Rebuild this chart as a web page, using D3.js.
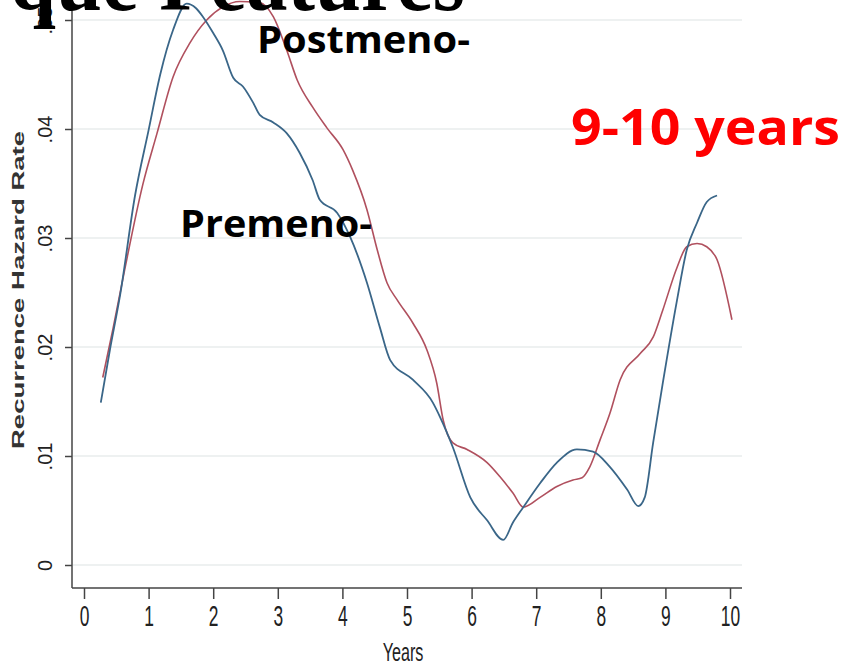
<!DOCTYPE html>
<html>
<head>
<meta charset="utf-8">
<script src="https://cdn.jsdelivr.net/npm/d3@7"></script>
<style>
  body { margin: 0; background: #fff; }
  svg { display: block; }
</style>
</head>
<body>
<svg id="chart"></svg>
<script>
// years and hazard rates
const premenoYears = [0.26, 0.40, 0.56, 0.79, 1.00, 1.18, 1.38, 1.59, 1.73, 1.84, 2.00, 2.15, 2.31, 2.46, 2.62, 2.72, 2.93, 3.14, 3.34, 3.54, 3.65, 3.92, 4.12, 4.38, 4.58, 4.74, 5.09, 5.40, 5.51, 5.71, 5.98, 6.24, 6.49, 6.64, 6.80, 7.06, 7.32, 7.63, 7.88, 8.14, 8.41, 8.58, 8.68, 8.81, 8.96, 9.18, 9.33, 9.49, 9.64, 9.80];
const premenoRate = [0.0149, 0.0197, 0.0248, 0.0339, 0.0399, 0.0450, 0.0491, 0.0515, 0.0511, 0.0503, 0.0488, 0.0472, 0.0447, 0.0439, 0.0424, 0.0413, 0.0406, 0.0396, 0.0378, 0.0353, 0.0335, 0.0323, 0.0301, 0.0259, 0.0218, 0.0188, 0.0170, 0.0149, 0.0136, 0.0108, 0.0062, 0.0041, 0.0023, 0.0039, 0.0053, 0.0075, 0.0094, 0.0106, 0.0104, 0.0090, 0.0069, 0.0054, 0.0062, 0.0112, 0.0167, 0.0243, 0.0289, 0.0314, 0.0333, 0.0339];

const postmenoYears = [0.29, 0.45, 0.63, 0.91, 1.13, 1.38, 1.64, 1.90, 2.15, 2.41, 2.72, 2.93, 3.14, 3.30, 3.54, 3.76, 4.01, 4.16, 4.38, 4.54, 4.69, 4.85, 5.09, 5.31, 5.46, 5.56, 5.71, 5.93, 6.24, 6.44, 6.64, 6.80, 7.06, 7.32, 7.57, 7.71, 7.83, 7.99, 8.14, 8.30, 8.61, 8.81, 8.96, 9.18, 9.33, 9.49, 9.64, 9.80, 10.03];
const postmenoRate = [0.0172, 0.0217, 0.0271, 0.0349, 0.0396, 0.0448, 0.0479, 0.0500, 0.0512, 0.0517, 0.0516, 0.0503, 0.0472, 0.0445, 0.0420, 0.0401, 0.0381, 0.0362, 0.0326, 0.0289, 0.0259, 0.0243, 0.0222, 0.0197, 0.0167, 0.0133, 0.0112, 0.0106, 0.0094, 0.0081, 0.0066, 0.0053, 0.0062, 0.0072, 0.0078, 0.0080, 0.0090, 0.0115, 0.0139, 0.0170, 0.0194, 0.0209, 0.0234, 0.0273, 0.0292, 0.0295, 0.0292, 0.0280, 0.0225];

const xTicks = [0, 1, 2, 3, 4, 5, 6, 7, 8, 9, 10];
const yTicks = [0, 0.01, 0.02, 0.03, 0.04, 0.05];
const yTickLabels = ["0", ".01", ".02", ".03", ".04", ".05"];

const width = 847, height = 666;

const svg = d3.select("#chart")
    .attr("width", width)
    .attr("height", height);

const x = d3.scaleLinear().domain([0, 10]).range([84, 730]);
const y = d3.scaleLinear().domain([0, 0.05]).range([565, 20]);

const axisY = 588, axisX = 72;

// faint grid
svg.append("g")
    .selectAll("line")
    .data(yTicks)
    .enter().append("line")
        .attr("x1", axisX + 1)
        .attr("x2", 742)
        .attr("y1", d => y(d))
        .attr("y2", d => y(d))
        .attr("stroke", "#eef1f1")
        .attr("stroke-width", 2);

// y axis
const gy = svg.append("g")
    .attr("transform", `translate(${axisX},0)`)
    .call(d3.axisLeft(y).tickValues(yTicks).tickSize(7).tickFormat((d, i) => yTickLabels[i]));
gy.select(".domain").remove();
gy.append("line")
    .attr("x1", 0).attr("x2", 0)
    .attr("y1", 10).attr("y2", axisY)
    .attr("stroke", "#444").attr("stroke-width", 1.5);
gy.selectAll(".tick line").attr("stroke", "#444").attr("stroke-width", 1.5);
gy.selectAll(".tick text")
    .attr("x", null).attr("dy", null)
    .attr("transform", "translate(-27,0) rotate(-90)")
    .attr("text-anchor", "middle")
    .attr("dominant-baseline", "central")
    .style("font-family", "Liberation Sans, Arial, sans-serif")
    .style("font-size", "20px")
    .attr("fill", "#222");

// x axis
const gx = svg.append("g")
    .attr("transform", `translate(0,${axisY})`)
    .call(d3.axisBottom(x).tickValues(xTicks).tickSize(11).tickFormat(d3.format("d")));
gx.select(".domain").remove();
gx.append("line")
    .attr("x1", axisX).attr("x2", 742)
    .attr("y1", 0).attr("y2", 0)
    .attr("stroke", "#444").attr("stroke-width", 1.5);
gx.selectAll(".tick line").attr("stroke", "#444").attr("stroke-width", 1.5);
gx.selectAll(".tick text")
    .attr("y", null).attr("dy", null)
    .attr("transform", "translate(0,38) scale(0.6,1)")
    .style("font-family", "Liberation Sans, Arial, sans-serif")
    .style("font-size", "29px")
    .attr("fill", "#222");

// axis titles
svg.append("text")
    .attr("transform", `translate(${(axisX + 742) / 2 - 4},661) scale(0.62,1)`)
    .attr("text-anchor", "middle")
    .style("font-family", "Liberation Sans, Arial, sans-serif")
    .style("font-size", "26px")
    .attr("fill", "#222")
    .text("Years");

svg.append("text")
    .attr("transform", "translate(24,290) rotate(-90)")
    .attr("text-anchor", "middle")
    .style("font-family", "Liberation Sans, Arial, sans-serif")
    .style("font-weight", "bold")
    .style("font-size", "16px")
    .attr("textLength", 318)
    .attr("lengthAdjust", "spacingAndGlyphs")
    .attr("fill", "#333")
    .text("Recurrence Hazard Rate");

// the two curves
const line = d3.line()
    .x(d => x(d[0]))
    .y(d => y(d[1]))
    .curve(d3.curveMonotoneX);

svg.append("path")
    .datum(d3.zip(postmenoYears, postmenoRate))
    .attr("fill", "none")
    .attr("stroke", "#b0505e")
    .attr("stroke-width", 1.6)
    .attr("d", line);

svg.append("path")
    .datum(d3.zip(premenoYears, premenoRate))
    .attr("fill", "none")
    .attr("stroke", "#3a6688")
    .attr("stroke-width", 1.8)
    .attr("d", line);

// slide overlay texts
svg.append("text")
    .attr("x", 10).attr("y", 10)
    .style("font-family", "Liberation Serif, Times New Roman, serif")
    .style("font-weight", "bold")
    .style("font-size", "92px")
    .attr("textLength", 455)
    .attr("lengthAdjust", "spacingAndGlyphs")
    .attr("fill", "#000")
    .text("que Features");

svg.append("text")
    .attr("x", 257).attr("y", 53)
    .style("font-family", "Open Sans, sans-serif")
    .style("font-weight", "bold")
    .style("font-size", "37px")
    .attr("textLength", 213)
    .attr("lengthAdjust", "spacingAndGlyphs")
    .attr("fill", "#000")
    .text("Postmeno-");

svg.append("text")
    .attr("x", 180).attr("y", 237)
    .style("font-family", "Open Sans, sans-serif")
    .style("font-weight", "bold")
    .style("font-size", "37px")
    .attr("textLength", 192)
    .attr("lengthAdjust", "spacingAndGlyphs")
    .attr("fill", "#000")
    .text("Premeno-");

svg.append("text")
    .attr("x", 571).attr("y", 145)
    .style("font-family", "Open Sans, sans-serif")
    .style("font-weight", "bold")
    .style("font-size", "50px")
    .attr("textLength", 269)
    .attr("lengthAdjust", "spacingAndGlyphs")
    .attr("fill", "#ff0000")
    .text("9-10 years");
</script>
</body>
</html>
